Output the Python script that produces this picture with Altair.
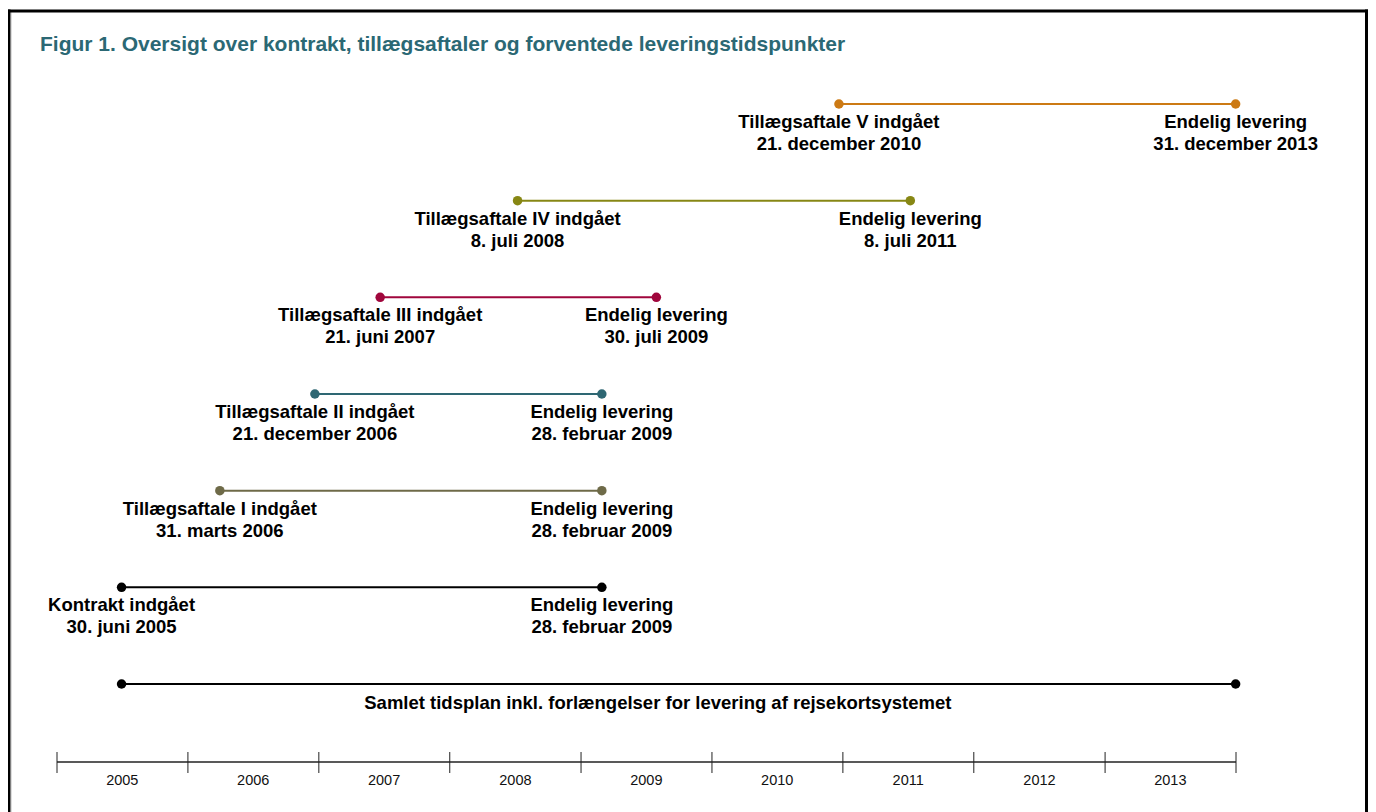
import altair as alt
import pandas as pd

# ---------------- data ----------------
rows = ["Tillægsaftale V", "Tillægsaftale IV", "Tillægsaftale III",
        "Tillægsaftale II", "Tillægsaftale I", "Kontrakt", "Samlet"]
start_dates = ["2010-12-21", "2008-07-08", "2007-06-21", "2006-12-21",
               "2006-03-31", "2005-06-30", "2005-06-30"]
end_dates = ["2013-12-31", "2011-07-08", "2009-07-30", "2009-02-28",
             "2009-02-28", "2009-02-28", "2013-12-31"]
start_line1 = ["Tillægsaftale V indgået", "Tillægsaftale IV indgået",
               "Tillægsaftale III indgået", "Tillægsaftale II indgået",
               "Tillægsaftale I indgået", "Kontrakt indgået", ""]
start_line2 = ["21. december 2010", "8. juli 2008", "21. juni 2007",
               "21. december 2006", "31. marts 2006", "30. juni 2005", ""]
end_line1 = ["Endelig levering", "Endelig levering", "Endelig levering",
             "Endelig levering", "Endelig levering", "Endelig levering", ""]
end_line2 = ["31. december 2013", "8. juli 2011", "30. juli 2009",
             "28. februar 2009", "28. februar 2009", "28. februar 2009", ""]
colors = ["#cc7a14", "#878714", "#a0063c", "#2e6773", "#6e6a48",
          "#000000", "#000000"]

total_label = ["Samlet tidsplan inkl. forlængelser for levering af rejsekortsystemet"]
total_label_date = ["2009-08-03"]

years = ["2005", "2006", "2007", "2008", "2009", "2010", "2011", "2012", "2013"]
year_bounds = ["2005-01-01", "2006-01-01", "2007-01-01", "2008-01-01", "2009-01-01",
               "2010-01-01", "2011-01-01", "2012-01-01", "2013-01-01", "2014-01-01"]
year_mid = ["2005-07-02", "2006-07-02", "2007-07-02", "2008-07-02", "2009-07-02",
            "2010-07-02", "2011-07-02", "2012-07-02", "2013-07-02"]

title_text = "Figur 1. Oversigt over kontrakt, tillægsaftaler og forventede leveringstidspunkter"

# ---------------- tables ----------------
seg = pd.DataFrame({"row": rows, "start": start_dates, "end": end_dates, "color": colors})
pts = pd.DataFrame({
    "row": rows + rows,
    "date": start_dates + end_dates,
    "l1": start_line1 + end_line1,
    "l2": start_line2 + end_line2,
    "color": colors + colors,
})
tot = pd.DataFrame({"row": ["Samlet"], "date": total_label_date, "text": total_label})
axis_line = pd.DataFrame({"start": [year_bounds[0]], "end": [year_bounds[-1]]})
ticks = pd.DataFrame({"date": year_bounds})
ylabels = pd.DataFrame({"date": year_mid, "year": years})

W, H = 1357, 801
FONT = "Liberation Sans, Arial, sans-serif"

xscale = alt.Scale(type="utc",
                   domain=[alt.DateTime(year=2005, month=1, date=1, utc=True),
                           alt.DateTime(year=2014, month=1, date=1, utc=True)],
                   range=[46, 1225])
yscale = alt.Scale(type="point", domain=rows, range=[93, 673], padding=0)

X = lambda f: alt.X(f"{f}:T", scale=xscale, axis=None)
Y = alt.Y("row:N", scale=yscale, axis=None)

segments = alt.Chart(seg).mark_rule(strokeWidth=2).encode(
    x=X("start"), x2="end:T", y=Y, color=alt.Color("color:N", scale=None))

points = alt.Chart(pts).mark_circle(size=90, opacity=1).encode(
    x=X("date"), y=Y, color=alt.Color("color:N", scale=None))

txt_kw = dict(font=FONT, fontSize=18.5, fontWeight="bold", color="#000000",
              align="center", baseline="alphabetic")
text1 = alt.Chart(pts).mark_text(dy=24, **txt_kw).encode(x=X("date"), y=Y, text="l1:N")
text2 = alt.Chart(pts).mark_text(dy=46, **txt_kw).encode(x=X("date"), y=Y, text="l2:N")
total_text = alt.Chart(tot).mark_text(dy=25, **txt_kw).encode(x=X("date"), y=Y, text="text:N")

ax_line = alt.Chart(axis_line).mark_rule(color="#222222", strokeWidth=1.5).encode(
    x=X("start"), x2="end:T", y=alt.value(751))
ax_ticks = alt.Chart(ticks).mark_rule(color="#222222", strokeWidth=1).encode(
    x=X("date"), y=alt.value(741), y2=alt.value(762))
ax_labels = alt.Chart(ylabels).mark_text(font=FONT, fontSize=14.5, color="#111111",
                                         align="center", baseline="alphabetic").encode(
    x=X("date"), y=alt.value(774), text="year:N")

title = alt.Chart(pd.DataFrame({"t": [title_text]})).mark_text(
    font=FONT, fontSize=21, fontWeight="bold", color="#2b6874",
    align="left", baseline="alphabetic").encode(
    x=alt.value(29), y=alt.value(40), text="t:N")

frame_kw = dict(color="#000000", strokeWidth=3)
frame_left = alt.Chart(pd.DataFrame({"a": [0]})).mark_rule(**frame_kw).encode(
    x=alt.value(-2), y=alt.value(-1.5), y2=alt.value(H))
frame_top = alt.Chart(pd.DataFrame({"a": [0]})).mark_rule(**frame_kw).encode(
    x=alt.value(-3), x2=alt.value(W), y=alt.value(0))
frame_right = alt.Chart(pd.DataFrame({"a": [0]})).mark_rule(**frame_kw).encode(
    x=alt.value(W - 1.5), y=alt.value(-1.5), y2=alt.value(H))

chart = alt.layer(
    frame_left, frame_top, frame_right, title,
    segments, points, text1, text2, total_text,
    ax_line, ax_ticks, ax_labels,
).properties(
    width=W, height=H,
    autosize=alt.AutoSizeParams(type="none"),
    padding={"left": 3, "top": 3, "right": 0, "bottom": 0},
).configure_view(stroke=None).configure(background="white")

chart.save("out.html", embed_options={"renderer": "svg", "actions": False})
